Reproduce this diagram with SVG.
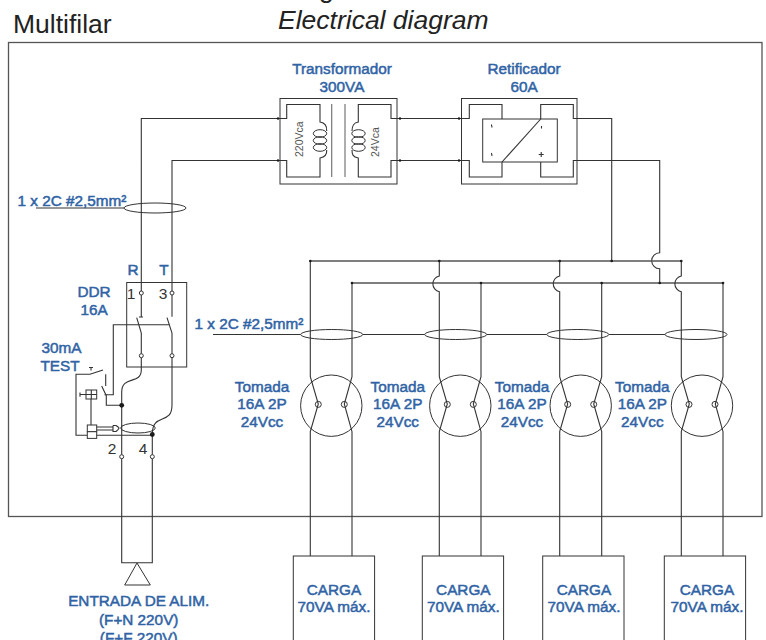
<svg xmlns="http://www.w3.org/2000/svg" xmlns:xlink="http://www.w3.org/1999/xlink" width="766" height="640" viewBox="0 0 766 640">
<style>
text{font-family:"Liberation Sans",Arial,sans-serif}
.l{font-size:15.3px;fill:#2f63a5;stroke:#2f63a5;stroke-width:.5;text-anchor:middle}
.n{font-size:15.5px;fill:#333;text-anchor:middle}
.t{fill:#222}
.w,.b{fill:none;stroke:#333;stroke-width:1.1}
.b{stroke:#555;stroke-width:1.4}
.c{fill:#fff;stroke:#333;stroke-width:1}
.e{fill:none;stroke:#333;stroke-width:1}
.d{fill:#1a1a1a}
</style>
<defs>
<g id="socket">
<circle class="e" cx="0" cy="0" r="30.7"/>
<circle class="e" cx="-13" cy="-1.3" r="3"/>
<circle class="e" cx="13" cy="-1.3" r="3"/>
</g>
</defs>
<text class="t" x="13" y="33" font-size="26.5">Multifilar</text>
<text class="t" x="319" y="-2.5" font-size="26.5">g</text>
<text class="t" x="278" y="28.5" font-size="26.5" font-style="italic">Electrical diagram</text>
<rect x="8.5" y="42.5" width="753.5" height="474" fill="none" stroke="#555" stroke-width="1.3"/>

<g id="connectors">
<path class="w" d="M280 118.5H141.3V293M172 293V160.5H280M397 118.5H461.5M397 160.5H461.5"/>
<path class="w" d="M577 118.5H611.7V261M577 160.5H659.7V252.7A8 8 0 0 0 659.7 268.7V283"/>
<path class="b" d="M310.3 261H681.3"/>
<path class="b" d="M352 283H723"/>
<path class="w" d="M310.3 261V376.7L318.3 404L310.3 431.7V556"/>
<path class="w" d="M352 283V376.7L344.3 404L352 431.7V556"/>
<path class="w" d="M439.3 261V276A8 8 0 0 0 439.3 291.7V376.7L447.3 404L439.3 431.7V556"/>
<path class="w" d="M481 283V376.7L473.3 404L481 431.7V556"/>
<path class="w" d="M559.7 261V276A8 8 0 0 0 559.7 291.7V376.7L567.7 404L559.7 431.7V556"/>
<path class="w" d="M601.7 283V376.7L593.7 404L601.7 431.7V556"/>
<path class="w" d="M681.3 261V276A8 8 0 0 0 681.3 291.7V376.7L689.3 404L681.3 431.7V556"/>
<path class="w" d="M723 283V376.7L715.3 404L723 431.7V556"/>
<path class="w" d="M36 208H124M213 334.5H300.7M362.7 334.5H424.7M486.7 334.5H546.7M609 334.5H665"/>
<ellipse class="e" cx="155" cy="208" rx="31" ry="5"/>
<ellipse class="e" cx="331.7" cy="334.5" rx="31" ry="5"/>
<ellipse class="e" cx="455.7" cy="334.5" rx="31" ry="5"/>
<ellipse class="e" cx="577.8" cy="334.5" rx="31" ry="5"/>
<ellipse class="e" cx="696" cy="334.5" rx="31" ry="5"/>
<path class="w" d="M141.3 357.7V370C141.3 385 121.7 375 121.7 392V454.7M121.7 458.7V562.7H152.3V458.7M152.3 454.7V434C152.3 412 172 426 172 405V357.7"/>
<g class="d">
<circle cx="310.3" cy="261" r="1.3"/><circle cx="439.3" cy="261" r="1.3"/><circle cx="559.7" cy="261" r="1.3"/><circle cx="611.7" cy="261" r="1.3"/><circle cx="681.3" cy="261" r="1.3"/>
<circle cx="352" cy="283" r="1.3"/><circle cx="481" cy="283" r="1.3"/><circle cx="601.7" cy="283" r="1.3"/><circle cx="659.7" cy="283" r="1.3"/><circle cx="723" cy="283" r="1.3"/>
<circle cx="278" cy="118.5" r="1.2"/><circle cx="278" cy="160.5" r="1.2"/><circle cx="400" cy="118.5" r="1.2"/><circle cx="400" cy="160.5" r="1.2"/><circle cx="459" cy="118.5" r="1.2"/><circle cx="459" cy="160.5" r="1.2"/>
</g>
</g>

<g id="transformador">
<rect class="e" x="280" y="98.5" width="117" height="85.5"/>
<path class="w" d="M280 118.5H286.7V104.5H320V122C326 123 327 127 326.7 131M326.7 150C327 154 326 157 320 158V177H286.7V160.5H280"/>
<path class="w" d="M397 118.5H391V104.5H358.3V122C352.5 123 352 127 352 131M352 150C352 154 352.5 157 358.3 158V177H391V160.5H397"/>
<ellipse class="e" cx="320" cy="133.5" rx="6.7" ry="3.8"/><ellipse class="e" cx="320" cy="140.5" rx="6.7" ry="3.8"/><ellipse class="e" cx="320" cy="147.5" rx="6.7" ry="3.8"/>
<ellipse class="e" cx="358.5" cy="133.5" rx="6.7" ry="3.8"/><ellipse class="e" cx="358.5" cy="140.5" rx="6.7" ry="3.8"/><ellipse class="e" cx="358.5" cy="147.5" rx="6.7" ry="3.8"/>
<path d="M331.7 104V177M345 104V177" stroke="#777" stroke-width="1.2" fill="none"/>
<text x="0" y="0" transform="translate(303,157) rotate(-90)" font-size="10.5" fill="#555">220Vca</text>
<text x="0" y="0" transform="translate(379,157) rotate(-90)" font-size="10.5" fill="#555">24Vca</text>
<text class="l" x="342" y="74">Transformador</text>
<text class="l" x="342" y="92">300VA</text>
</g>

<g id="retificador">
<rect class="e" x="461.5" y="98.5" width="115.5" height="85.5"/>
<path class="w" d="M461.5 118.5H469.3V104.5H502V119M502 162V177H469.3V160.5H461.5"/>
<path class="w" d="M577 118.5H573.3V104.5H540.7V119M540.7 162V177H573.3V160.5H577"/>
<rect class="e" x="482.7" y="119" width="74.6" height="43"/>
<path class="w" d="M502 162L540.7 119"/>
<path class="w" d="M491.7 124.5c-.9 1 .9 1.5 0 3M491.7 153c-.9 1 .9 1.5 0 3M541.5 126v2.6M538.7 154.5h5M541.2 152v5" stroke-width="1"/>
<text class="l" x="524" y="74">Retificador</text>
<text class="l" x="524" y="92">60A</text>
</g>

<g id="ddr">
<rect class="e" x="126.7" y="282.5" width="60" height="84.5"/>
<path class="w" d="M141.3 295V316.7M139 317H143M136.7 317.7L141.3 333V353.7"/>
<path class="w" d="M172 295V316.7M167 317.7L172 333V353.7"/>
<path class="w" d="M169.3 324.7H113.3V394.7H104.5"/>
<circle class="c" cx="141.3" cy="293" r="2"/><circle class="c" cx="172" cy="293" r="2"/>
<circle class="c" cx="141.3" cy="355.7" r="2"/><circle class="c" cx="172" cy="355.7" r="2"/>
<text class="l" x="133" y="275">R</text>
<text class="l" x="164" y="275">T</text>
<text class="l" x="94" y="297">DDR</text>
<text class="l" x="94" y="314.7">16A</text>
<text class="n" x="131" y="299">1</text>
<text class="n" x="163" y="299">3</text>
</g>

<g id="test">
<path class="w" d="M87 435.3H76V374.3H90L103 370M105.7 374.3V386M101.7 386L106.3 395.7V405.3H121.7"/>
<path class="w" d="M91 367.5V370.5M89 367.5H93" stroke-width="1"/>
<rect class="e" x="86" y="390" width="10.7" height="9"/>
<path class="w" d="M91.3 390V399M86 394.5H96.7M80 392.5V396.7M80 394.5H86M91 399V425" stroke-width="1"/>
<rect class="c" x="87.3" y="425" width="9.4" height="6.7"/>
<rect class="c" x="87.3" y="431.7" width="9.4" height="6.7"/>
<path class="w" d="M96.7 427H113M96.7 430H113M113 425.5H116Q119 427.5 119 428Q119 429 116 431.5H113V425.5"/>
<path class="w" d="M96.7 435.3H152.3"/>
<ellipse class="e" cx="138" cy="428" rx="17.3" ry="5"/>
<circle class="d" cx="121.7" cy="405.3" r="2.4"/>
<circle class="d" cx="152.3" cy="434.5" r="2.4"/>
<circle class="c" cx="121.7" cy="456.7" r="2"/>
<circle class="c" cx="152.3" cy="456.7" r="2"/>
<text class="l" x="61.5" y="353">30mA</text>
<text class="l" x="60" y="370.7">TEST</text>
<text class="n" x="112" y="454">2</text>
<text class="n" x="143" y="454">4</text>
</g>

<g id="cabo-labels">
<text class="l" x="72" y="206">1 x 2C #2,5mm²</text>
<text class="l" x="249" y="329">1 x 2C #2,5mm²</text>
</g>

<g id="tomada1"><use xlink:href="#socket" href="#socket" x="331.3" y="405.7"/>
<text class="l" x="262" y="391.7">Tomada</text><text class="l" x="262" y="409.3">16A 2P</text><text class="l" x="262" y="426.7">24Vcc</text></g>
<g id="tomada2"><use xlink:href="#socket" href="#socket" x="460.3" y="405.7"/>
<text class="l" x="397.7" y="391.7">Tomada</text><text class="l" x="397.7" y="409.3">16A 2P</text><text class="l" x="397.7" y="426.7">24Vcc</text></g>
<g id="tomada3"><use xlink:href="#socket" href="#socket" x="580.7" y="405.7"/>
<text class="l" x="522" y="391.7">Tomada</text><text class="l" x="522" y="409.3">16A 2P</text><text class="l" x="522" y="426.7">24Vcc</text></g>
<g id="tomada4"><use xlink:href="#socket" href="#socket" x="702" y="405.7"/>
<text class="l" x="642.3" y="391.7">Tomada</text><text class="l" x="642.3" y="409.3">16A 2P</text><text class="l" x="642.3" y="426.7">24Vcc</text></g>

<g id="carga1"><rect class="e" x="293.3" y="556" width="81.3" height="90"/>
<text class="l" x="334" y="595">CARGA</text><text class="l" x="334" y="612.3">70VA máx.</text></g>
<g id="carga2"><rect class="e" x="422.3" y="556" width="81.3" height="90"/>
<text class="l" x="463.3" y="595">CARGA</text><text class="l" x="463.3" y="612.3">70VA máx.</text></g>
<g id="carga3"><rect class="e" x="542.7" y="556" width="81.3" height="90"/>
<text class="l" x="584" y="595">CARGA</text><text class="l" x="584" y="612.3">70VA máx.</text></g>
<g id="carga4"><rect class="e" x="664.3" y="556" width="81.3" height="90"/>
<text class="l" x="707" y="595">CARGA</text><text class="l" x="707" y="612.3">70VA máx.</text></g>

<g id="entrada">
<path class="e" d="M137 563L124.7 585H150.3Z"/>
<text class="l" x="138.7" y="606">ENTRADA DE ALIM.</text>
<text class="l" x="138.7" y="624.5">(F+N 220V)</text>
<text class="l" x="138.7" y="642.5">(F+F 220V)</text>
</g>
</svg>
